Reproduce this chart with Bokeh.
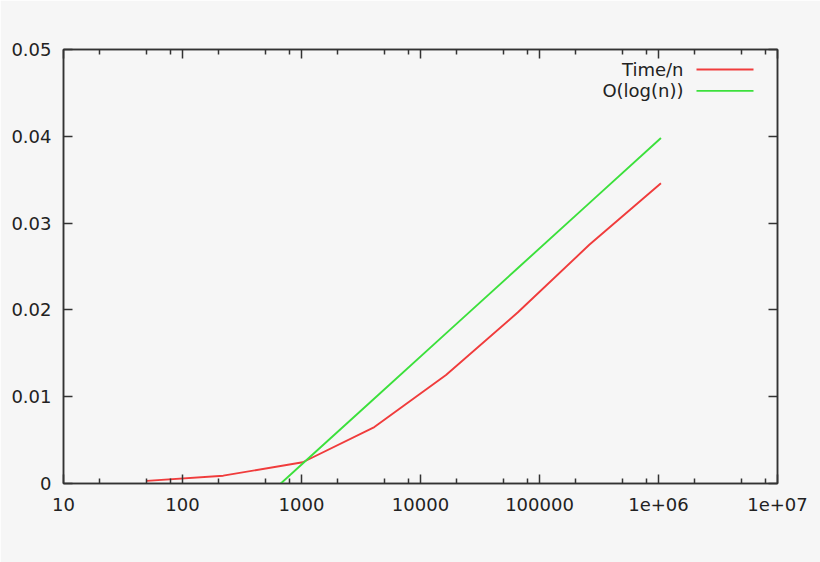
from bokeh.plotting import figure
from bokeh.models import (FixedTicker, CustomJSTickFormatter, LinearAxis, LogAxis,
                          Label, Arrow, Range1d)
from bokeh.embed import file_html
from bokeh.resources import INLINE

# ---- data ----
n_time = [50, 220, 1024, 4096, 16384, 65536, 262144, 1048576]
time_per_n = [0.0003, 0.0009, 0.00245, 0.0065, 0.0125, 0.0197, 0.0275, 0.0346]

n_log = [256, 1024, 4096, 16384, 65536, 262144, 1048576]
o_log_n = [-0.0052, 0.0023, 0.0098, 0.0173, 0.0248, 0.0323, 0.0398]

x_major = [10, 100, 1000, 10000, 100000, 1000000, 10000000]
x_minor = [m * d for d in [10, 100, 1000, 10000, 100000, 1000000] for m in (2, 5, 8)]
y_major = [0, 0.01, 0.02, 0.03, 0.04, 0.05]

series_labels = ["Time/n", "O(log(n))"]
series_colors = ["#f03c3c", "#3ce03c"]

FONT = "DejaVu Sans"
TXT = "#222222"
BG = "#f6f6f6"

p = figure(width=820, height=562, x_axis_type="log",
           x_range=Range1d(10, 1e7), y_range=Range1d(0, 0.05),
           output_backend="svg", toolbar_location=None,
           min_border_left=63, min_border_right=43,
           min_border_top=49, min_border_bottom=79,
           background_fill_color=BG, border_fill_color=BG)
p.grid.visible = False
p.outline_line_color = "#333333"
p.outline_line_width = 1.5

xfmt = CustomJSTickFormatter(code="""
const e = Math.round(Math.log10(tick));
if (e >= 6) { return "1e+" + (e < 10 ? "0" : "") + e; }
return String(Math.round(tick));
""")
yfmt = CustomJSTickFormatter(code="return String(+tick.toFixed(4));")

def style_axis(ax, labels=True):
    ax.axis_line_color = "#333333"
    ax.axis_line_width = 1.5
    ax.major_tick_in = 9
    ax.major_tick_out = 0
    ax.minor_tick_in = 5
    ax.minor_tick_out = 0
    ax.major_tick_line_color = "#333333"
    ax.minor_tick_line_color = "#333333"
    ax.major_tick_line_width = 1.5
    ax.minor_tick_line_width = 1.5
    ax.major_label_text_font = FONT
    ax.major_label_text_font_size = "18px"
    ax.major_label_text_color = TXT
    if not labels:
        ax.major_label_text_font_size = "0px"
        ax.major_label_text_alpha = 0

xt = FixedTicker(ticks=x_major, minor_ticks=x_minor)
yt = FixedTicker(ticks=y_major, minor_ticks=[])

p.xaxis.ticker = xt
p.xaxis.formatter = xfmt
p.yaxis.ticker = yt
p.yaxis.formatter = yfmt
style_axis(p.xaxis[0])
style_axis(p.yaxis[0])
p.xaxis.major_label_standoff = 14
p.yaxis.major_label_standoff = 12

top = LogAxis(ticker=xt, formatter=xfmt)
right = LinearAxis(ticker=yt, formatter=yfmt)
style_axis(top, labels=False)
style_axis(right, labels=False)
p.add_layout(top, "above")
p.add_layout(right, "right")

p.line(n_time, time_per_n, line_color=series_colors[0], line_width=1.9)
p.line(n_log, o_log_n, line_color=series_colors[1], line_width=1.9)

# gnuplot-style key: text on the left, sample line on the right
rows_y = [414, 392.6]
for lab, col, yy in zip(series_labels, series_colors, rows_y):
    p.add_layout(Label(x=620, y=yy, x_units="screen", y_units="screen", text=lab,
                       text_align="right", text_baseline="middle",
                       text_font=FONT, text_font_size="18px", text_color=TXT))
    p.add_layout(Arrow(x_start=633, y_start=yy, x_end=690, y_end=yy,
                       start_units="screen", end_units="screen", end=None,
                       line_color=col, line_width=1.9))

open("out.html", "w").write(file_html(p, INLINE))
